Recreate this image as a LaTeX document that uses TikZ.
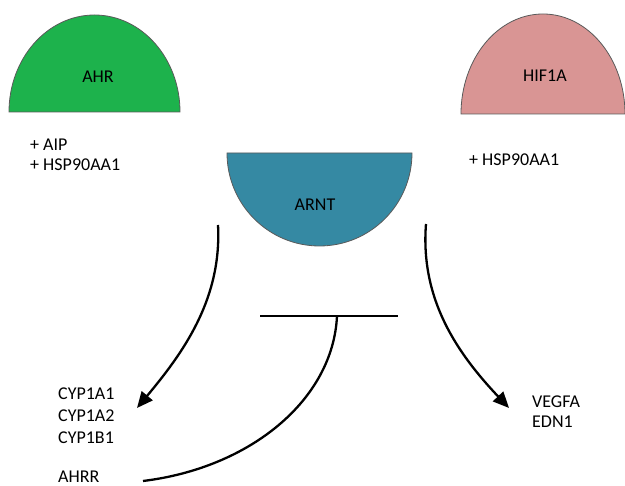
\documentclass[tikz,border=0pt]{standalone}
\usepackage{fontspec}
\setmainfont{Carlito}
\usetikzlibrary{positioning, arrows.meta}
\definecolor{ahrgreen}{HTML}{1DB24C}
\definecolor{hifpink}{HTML}{D99594}
\definecolor{arntteal}{HTML}{3589A3}
\definecolor{rimgray}{HTML}{5A5A5A}

\begin{document}
\begin{tikzpicture}[x=1pt, y=1pt,
    every node/.style={font=\fontsize{18}{22}\selectfont, text=black},
    genetext/.style={anchor=west, inner sep=0pt},
    dome/.style={draw=rimgray, line width=0.8pt},
    pathway/.style={line width=2.3pt, -{Triangle[length=16pt, width=14pt]}},
    block/.style={line width=2.3pt}]
    \useasboundingbox (0,0) rectangle (625,486);

    % Proteins
    \filldraw[dome, fill=ahrgreen] (9,374) arc[start angle=180, end angle=0, x radius=85.5, y radius=97] -- cycle;
    \node (ahr) at (98,409) {AHR};
    \filldraw[dome, fill=hifpink] (461,372) arc[start angle=180, end angle=0, x radius=82, y radius=100] -- cycle;
    \node (hif) at (545,410) {HIF1A};
    \filldraw[dome, fill=arntteal] (227,333) arc[start angle=180, end angle=360, x radius=92.5, y radius=93] -- cycle;
    \node (arnt) at (315,281) {ARNT};

    % Partners
    \node[genetext] (aip) at (30,341) {+ AIP};
    \node[genetext] (hspl) at (30,321) {+ HSP90AA1};
    \node[genetext] (hspr) at (469,326) {+ HSP90AA1};

    % Target genes
    \node[genetext] (cypa) at (58,92) {CYP1A1};
    \node[genetext] (cypb) at (58,70) {CYP1A2};
    \node[genetext] (cypc) at (58,48) {CYP1B1};
    \node[genetext] (ahrr) at (58,9) {AHRR};
    \node[genetext] (vegfa) at (532,84) {VEGFA};
    \node[genetext] (edn) at (532,64) {EDN1};

    % Connections
    \coordinate (ahrout) at (218,261);
    \coordinate (hifout) at (426,262);
    \coordinate (cyptip) at (137,78);
    \coordinate (vegtip) at (509,78);
    \coordinate (barl) at (260,170);
    \coordinate (barr) at (398,170);
    \coordinate (barm) at (337,170);
    \coordinate (ahrrend) at (143,5);

    \draw[pathway] (ahrout) .. controls (222,186) and (182,132) .. (cyptip);
    \draw[pathway] (hifout) .. controls (420,186) and (458,132) .. (vegtip);
    \draw[block] (barl) -- (barr);
    \draw[block] (barm) .. controls (333,86) and (250,18) .. (ahrrend);
\end{tikzpicture}
\end{document}
